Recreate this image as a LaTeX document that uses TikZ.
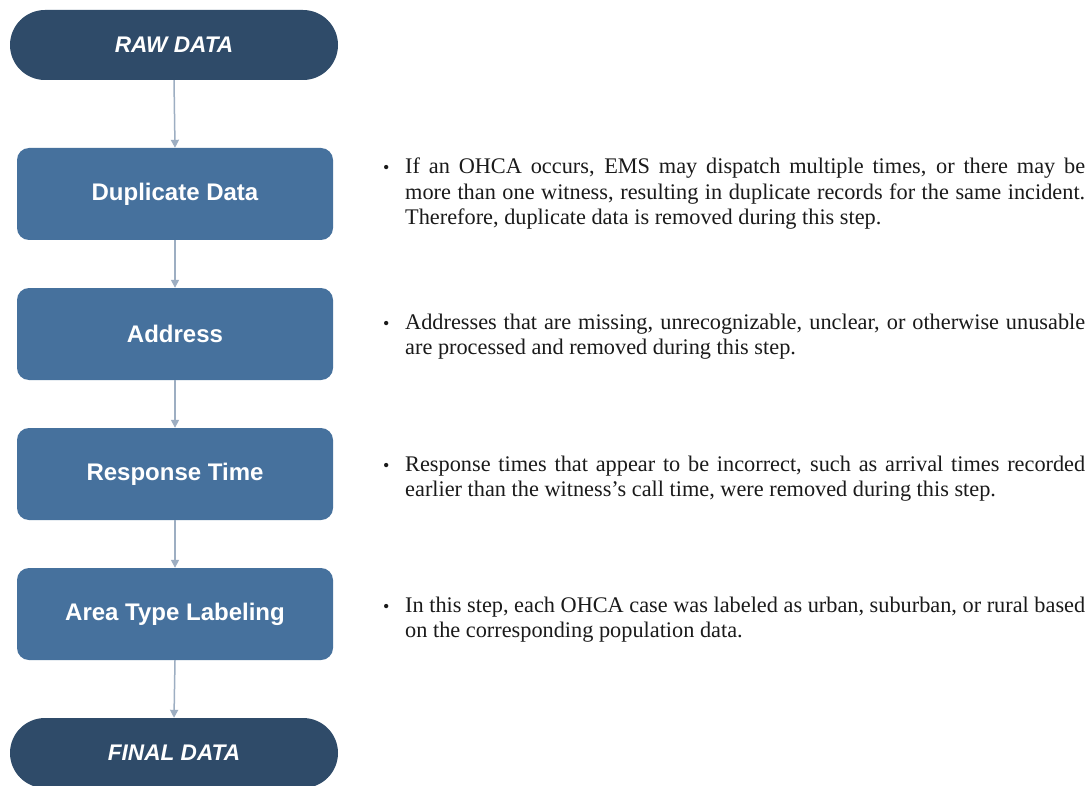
\documentclass[tikz,border=0pt]{standalone}
\usepackage{fontspec}
\setmainfont{Liberation Serif}
\setsansfont{Liberation Sans}
\usetikzlibrary{arrows.meta}
\definecolor{pillc}{HTML}{2F4B69}
\definecolor{boxc}{HTML}{46719D}
\definecolor{arrc}{HTML}{9DAEC2}
\definecolor{txtc}{HTML}{1A1A1A}
\tikzset{
  pill/.style={fill=pillc, draw=none, rounded corners=35pt, minimum width=328pt, minimum height=70pt,
    text=white, font=\sffamily\bfseries\itshape\fontsize{22.6}{26}\selectfont, inner sep=0pt},
  stepbox/.style={fill=boxc, draw=none, rounded corners=12pt, minimum width=316pt, minimum height=92pt,
    text=white, font=\sffamily\bfseries\fontsize{24}{28}\selectfont, inner sep=0pt},
  flow/.style={draw=arrc, line width=1.5pt, -{Triangle[width=8pt,length=8pt]}},
  desc/.style={anchor=base west, text width=680pt, align=justify, inner sep=0pt, text=txtc,
    font=\rmfamily\fontsize{22.3}{25.5}\selectfont},
  bul/.style={anchor=base west, inner sep=0pt, text=txtc, font=\rmfamily\fontsize{18}{25.5}\selectfont}
}
\begin{document}
\begin{tikzpicture}[x=1pt,y=1pt]
\useasboundingbox[fill=white] (0,0) rectangle (1091,-786);
\node[pill] (raw) at (174,-45) {RAW DATA};
\node[stepbox] (dup) at (175,-194) {Duplicate Data};
\node[stepbox] (addr) at (175,-334) {Address};
\node[stepbox] (resp) at (175,-474) {Response Time};
\node[stepbox] (area) at (175,-614) {Area Type Labeling};
\node[pill] (fin) at (174,-753) {FINAL DATA};
\draw[flow] (raw.south) -- (dup.north);
\draw[flow] (dup.south) -- (addr.north);
\draw[flow] (addr.south) -- (resp.north);
\draw[flow] (resp.south) -- (area.north);
\draw[flow] (area.south) -- (fin.north);

\node[bul] (b1) at (383,-174) {\textbullet};
\node[desc] (t1) at (405,-174) {If an OHCA occurs, EMS may dispatch multiple times, or there may be\linebreak more than one witness, resulting in duplicate records for the same incident.\linebreak Therefore, duplicate data is removed during this step.};
\node[bul] (b2) at (383,-329) {\textbullet};
\node[desc] (t2) at (405,-329) {Addresses that are missing, unrecognizable, unclear, or otherwise unusable\linebreak are processed and removed during this step.};
\node[bul] (b3) at (383,-471) {\textbullet};
\node[desc] (t3) at (405,-471) {Response times that appear to be incorrect, such as arrival times recorded\linebreak earlier than the witness’s call time, were removed during this step.};
\node[bul] (b4) at (383,-612) {\textbullet};
\node[desc] (t4) at (405,-612) {In this step, each OHCA case was labeled as urban, suburban, or rural based\linebreak on the corresponding population data.};
\end{tikzpicture}
\end{document}
